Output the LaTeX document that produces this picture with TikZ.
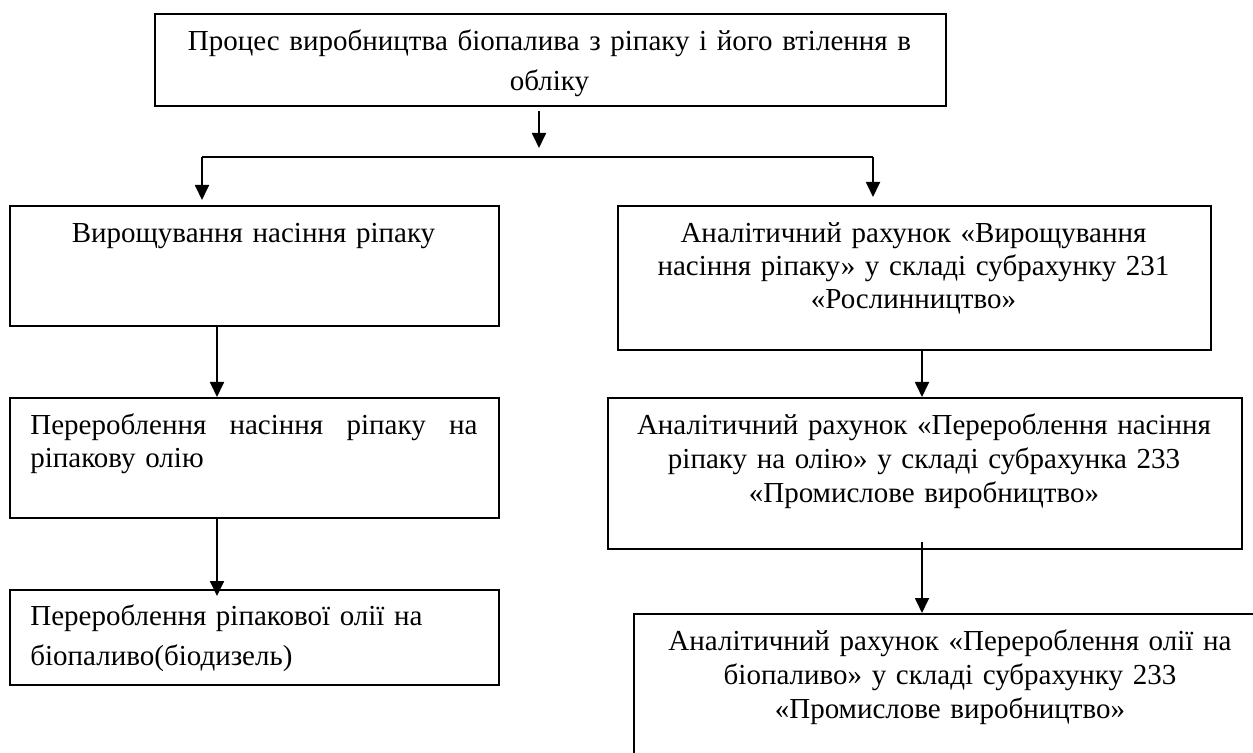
\documentclass[tikz,border=0pt]{standalone}
\usepackage{fontspec}
\setmainfont{Liberation Serif}
\usetikzlibrary{arrows.meta}

\begin{document}
\begin{tikzpicture}[
  x=0.5pt, y=-0.5pt,
  every node/.style={font=\fontsize{14.5pt}{16.5pt}\selectfont},
  stage/.style={draw, line width=1pt, rectangle, inner sep=0pt, anchor=north west},
  caption/.style={anchor=base, inner sep=0pt, align=center},
  leftcap/.style={anchor=base west, inner sep=0pt, align=left},
  arr/.style={line width=0.9pt, -{Triangle[length=7.5pt,width=7pt]}},
  bus/.style={line width=0.9pt}
]
\clip (0,0) rectangle (1253,753);
\fill[white] (0,0) rectangle (1253,753);

% --- frames ---
\node[stage, minimum width=395.5pt, minimum height=46pt] (T)  at (154,13)  {};
\node[stage, minimum width=244.5pt, minimum height=60pt] (L1) at (9,205)   {};
\node[stage, minimum width=244.5pt, minimum height=60pt] (L2) at (9,397)   {};
\node[stage, minimum width=244.5pt, minimum height=47.5pt] (L3) at (9,589) {};
\node[stage, minimum width=296.5pt, minimum height=72pt] (R1) at (617,205) {};
\node[stage, minimum width=317pt, minimum height=75.5pt] (R2) at (607,397) {};
\node[stage, minimum width=321pt, minimum height=80pt] (R3) at (633,613)  {};

% --- texts ---
\node[caption, text width=390pt, font=\fontsize{14.5pt}{20pt}\selectfont] (tT) at (549.5,51)
  {Процес виробництва біопалива з ріпаку і його втілення в\\обліку};
\node[caption, text width=240pt] (tL1) at (253.5,243) {Вирощування насіння ріпаку};
\node[leftcap, text width=223.5pt] (tL2) at (30,435)
  {\hbox to 223.5pt{Перероблення\hfill насіння\hfill ріпаку\hfill на}\\ріпакову олію};
\node[leftcap, text width=223.5pt, font=\fontsize{14.5pt}{20pt}\selectfont] (tL3) at (30,625)
  {Перероблення ріпакової олії на\\біопаливо(біодизель)};
\node[caption, text width=290pt] (tR1) at (913.5,243)
  {Аналітичний рахунок «Вирощування\\насіння ріпаку» у складі субрахунку 231\\«Рослинництво»};
\node[caption, text width=312pt, font=\fontsize{14.5pt}{17pt}\selectfont] (tR2) at (924,435)
  {Аналітичний рахунок «Перероблення насіння\\ріпаку на олію» у складі субрахунка 233\\«Промислове виробництво»};
\node[caption, text width=312pt, font=\fontsize{14.5pt}{17pt}\selectfont] (tR3) at (950,650)
  {Аналітичний рахунок «Перероблення олії на\\біопаливо» у складі субрахунку 233\\«Промислове виробництво»};

% --- connectors ---
\coordinate (tA)   at (539,148);
\coordinate (busL) at (202,157);
\coordinate (busR) at (873,157);
\coordinate (lx)   at (217,0);
\coordinate (rx)   at (922,0);

\draw[arr, shorten <=2pt] (T.south -| tA) -- (tA);
\draw[bus] (busL) -- (busR);
\draw[arr, shorten >=2.5pt] (busL) -- (busL |- L1.north);
\draw[arr, shorten >=4pt] (busR) -- (busR |- R1.north);
\draw[arr] (L1.south -| lx) -- (L2.north -| lx);
\draw[arr, shorten >=-3.5pt] (L2.south -| lx) -- (L3.north -| lx);
\draw[arr] (R1.south -| rx) -- (R2.north -| rx);
\draw[arr, shorten <=-4pt] (R2.south -| rx) -- (R3.north -| rx);
\end{tikzpicture}
\end{document}
